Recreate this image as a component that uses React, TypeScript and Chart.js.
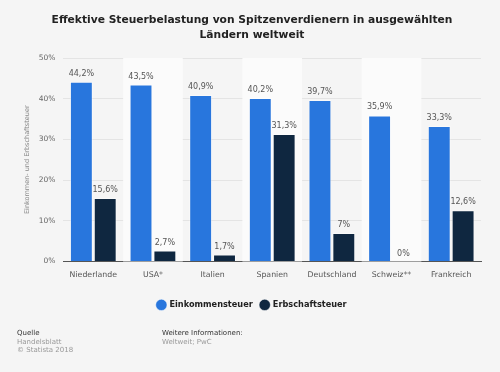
import React, { useEffect, useRef } from "react";
import { Chart, registerables } from "chart.js";

Chart.register(...registerables);

const categories = ["Niederlande", "USA*", "Italien", "Spanien", "Deutschland", "Schweiz**", "Frankreich"];
const einkommensteuer = [44.2, 43.5, 40.9, 40.2, 39.7, 35.9, 33.3];
const erbschaftsteuer = [15.6, 2.7, 1.7, 31.3, 7, 0, 12.6];
const yTicks = [0, 10, 20, 30, 40, 50];
const titleLines = ["Effektive Steuerbelastung von Spitzenverdienern in ausgewählten", "Ländern weltweit"];
const yAxisTitle = "Einkommen- und Erbschaftsteuer";
const sourceLines = ["Handelsblatt", "© Statista 2018"];
const infoLines = ["Weltweit; PwC"];

const FONT = "'DejaVu Sans', sans-serif";

const fmt = (v: number) => String(v).replace(".", ",") + "%";

const bandsPlugin = {
  id: "bands",
  beforeDatasetsDraw(chart: any) {
    const { ctx, chartArea, scales } = chart;
    const x = scales.x;
    const w = (chartArea.right - chartArea.left) / categories.length;
    ctx.save();
    ctx.fillStyle = "#fbfbfb";
    categories.forEach((_, i) => {
      if (i % 2 === 1) {
        const cx = x.getPixelForValue(i);
        ctx.fillRect(cx - w / 2, chartArea.top, w, chartArea.bottom - chartArea.top);
      }
    });
    ctx.restore();
  },
};

const labelsPlugin = {
  id: "valueLabels",
  afterDatasetsDraw(chart: any) {
    const { ctx } = chart;
    ctx.save();
    ctx.font = `8px ${FONT}`;
    ctx.fillStyle = "#555555";
    ctx.textAlign = "center";
    ctx.textBaseline = "bottom";
    chart.data.datasets.forEach((ds: any, di: number) => {
      const meta = chart.getDatasetMeta(di);
      meta.data.forEach((bar: any, i: number) => {
        ctx.fillText(fmt(ds.data[i]), bar.x, bar.y - 4);
      });
    });
    ctx.restore();
  },
};

const footerPlugin = {
  id: "footer",
  afterDraw(chart: any) {
    const { ctx } = chart;
    ctx.save();
    ctx.textAlign = "left";
    ctx.textBaseline = "alphabetic";
    ctx.font = `7px ${FONT}`;
    ctx.fillStyle = "#333333";
    ctx.fillText("Quelle", 17, 335);
    ctx.fillText("Weitere Informationen:", 162, 335);
    ctx.fillStyle = "#999999";
    sourceLines.forEach((t, i) => ctx.fillText(t, 17, 344 + i * 8));
    infoLines.forEach((t, i) => ctx.fillText(t, 162, 344 + i * 8));
    ctx.restore();
  },
};

export default function App() {
  const ref = useRef<HTMLCanvasElement>(null);
  useEffect(() => {
    document.body.style.margin = "0";
    const chart = new Chart(ref.current!, {
      type: "bar",
      data: {
        labels: categories,
        datasets: [
          {
            label: "Einkommensteuer",
            data: einkommensteuer,
            backgroundColor: "#2876dd",
            borderColor: "rgba(255,255,255,0.45)",
            borderWidth: 1,
            categoryPercentage: 0.8,
            barPercentage: 0.96,
          },
          {
            label: "Erbschaftsteuer",
            data: erbschaftsteuer,
            backgroundColor: "#0f2740",
            borderColor: "rgba(255,255,255,0.45)",
            borderWidth: 1,
            categoryPercentage: 0.8,
            barPercentage: 0.96,
          },
        ],
      },
      options: {
        animation: false,
        responsive: false,
        maintainAspectRatio: false,
        layout: { padding: { left: 23, right: 19, top: 8, bottom: 53 } },
        plugins: {
          title: {
            display: true,
            text: titleLines,
            color: "#222222",
            font: { family: FONT, size: 10.7, weight: "bold", lineHeight: 1.45 },
            padding: { top: 4, bottom: 15 },
          },
          legend: {
            display: true,
            position: "bottom",
            labels: {
              usePointStyle: true,
              pointStyle: "circle",
              boxWidth: 8,
              boxHeight: 8,
              padding: 8,
              color: "#222222",
              font: { family: FONT, size: 8.2, weight: "bold" },
            },
          },
          tooltip: { enabled: false },
        },
        scales: {
          x: {
            grid: { display: false },
            border: { display: true, color: "#555555", width: 1 },
            ticks: { color: "#555555", font: { family: FONT, size: 7.8 }, padding: 1 },
            afterFit: (axis: any) => {
              axis.height += 12;
            },
          },
          y: {
            min: 0,
            max: 50,
            afterBuildTicks: (axis: any) => {
              axis.ticks = yTicks.map((v) => ({ value: v }));
            },
            grid: { color: "#e4e4e4", drawTicks: false },
            border: { display: false },
            ticks: {
              color: "#666666",
              font: { family: FONT, size: 7.5 },
              padding: 8,
              callback: (v: any) => v + "%",
            },
            title: {
              display: true,
              text: yAxisTitle,
              color: "#888888",
              font: { family: FONT, size: 6.5 },
              padding: { top: 0, bottom: 0 },
            },
          },
        },
      },
      plugins: [bandsPlugin, labelsPlugin, footerPlugin],
    });
    return () => chart.destroy();
  }, []);
  return (
    <div style={{ position: "fixed", left: 0, top: 0, width: 500, height: 372, background: "#f5f5f5" }}>
      <canvas ref={ref} width={500} height={372} style={{ width: 500, height: 372, display: "block" }} />
    </div>
  );
}
